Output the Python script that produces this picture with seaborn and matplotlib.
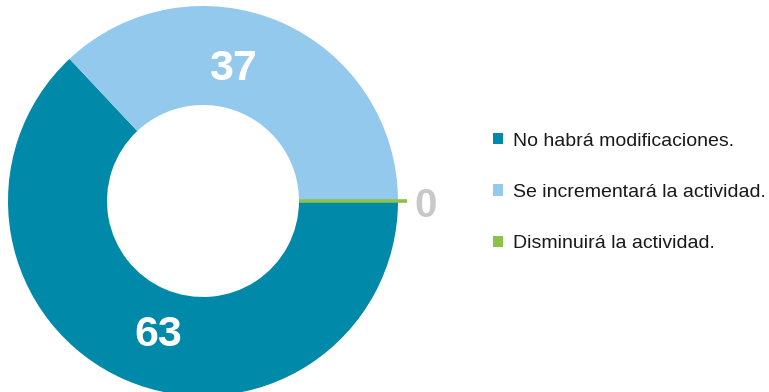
import numpy as np
import matplotlib
matplotlib.use("Agg")
import matplotlib.pyplot as plt
from matplotlib.patches import Patch
import seaborn as sns

categories = ["No habrá modificaciones.", "Se incrementará la actividad.", "Disminuirá la actividad."]
values = [63, 37, 0]
colors = ["#0089A8", "#93C9EC", "#8BC34A"]
label_colors = ["white", "white", "#C8C8C8"]
label_turn = [4.5, 11, 0]  # degrees of rotation applied to each value label

sns.set_theme(style="white")
plt.rcParams["font.family"] = ["Liberation Sans", "DejaVu Sans"]

W, H = 769, 392
fig = plt.figure(figsize=(W / 100, H / 100), dpi=100)
ax = fig.add_axes([0, 0, 1, 1])

cx, cy = 203, H - 201
r_out, r_in = 195, 96

wedges, _ = ax.pie(values, colors=colors, startangle=0, counterclock=False,
                   radius=r_out, center=(cx, cy), frame=True,
                   wedgeprops=dict(width=r_out - r_in, linewidth=0))
ax.set_xlim(0, W)
ax.set_ylim(0, H)
ax.set_aspect("equal")
ax.axis("off")

# zero-valued slice shown as a thin stroke at its angle
zero_w = wedges[2]
ang = np.deg2rad(zero_w.theta1)
ax.plot([cx + r_in * np.cos(ang), cx + (r_out + 9) * np.cos(ang)],
        [cy + r_in * np.sin(ang), cy + (r_out + 9) * np.sin(ang)],
        color=colors[2], lw=2.6, solid_capstyle="butt", zorder=3)

for w, v, lc, turn in zip(wedges, values, label_colors, label_turn):
    if v == 0:
        a = np.deg2rad(w.theta1)
        rr = 223
        size = 29
        dy = -5
    else:
        a = np.deg2rad((w.theta1 + w.theta2) / 2 + turn)
        rr = 138
        size = 31
        dy = -3
    ax.text(cx + rr * np.cos(a), cy + rr * np.sin(a) + dy, str(v), color=lc,
            fontsize=size, fontweight="bold", ha="center", va="center", zorder=4)

handles = [Patch(facecolor=c, edgecolor="none") for c in colors]
leg = ax.legend(handles, categories, loc="center left",
                bbox_to_anchor=(485 / W, 1 - 192.5 / H), frameon=False,
                fontsize=14, handlelength=0.52, handleheight=0.52,
                handletextpad=0.5, labelspacing=1.77, borderaxespad=0)
for t in leg.get_texts():
    t.set_color("#1a1a1a")

fig.savefig("out.png", dpi=100)
